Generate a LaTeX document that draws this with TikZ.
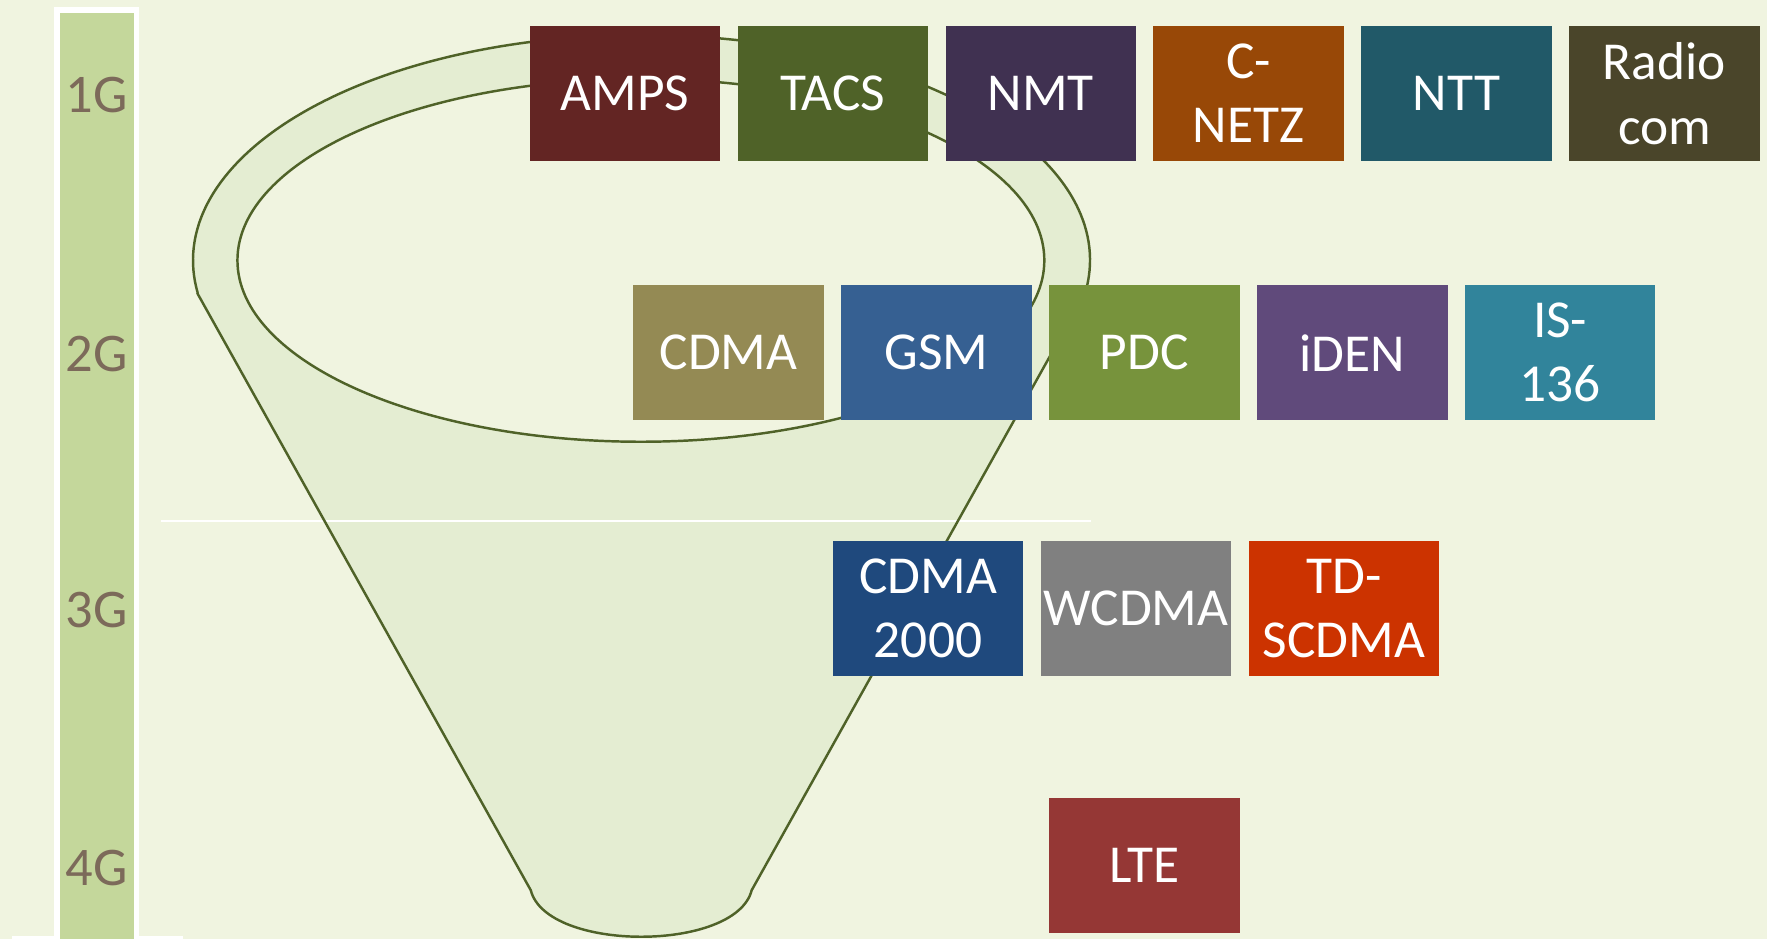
\documentclass[tikz,border=0pt]{standalone}
\usepackage{fontspec}
\setmainfont{Carlito}
\definecolor{bg}{RGB}{240,244,224}
\definecolor{funnelfill}{RGB}{228,237,210}
\definecolor{bargreen}{RGB}{196,215,155}
\definecolor{olive}{RGB}{79,98,40}
\definecolor{gtext}{RGB}{124,106,90}
\definecolor{cAMPS}{RGB}{99,37,35}
\definecolor{cTACS}{RGB}{79,98,40}
\definecolor{cNMT}{RGB}{64,49,81}
\definecolor{cCNETZ}{RGB}{152,72,7}
\definecolor{cNTT}{RGB}{33,89,104}
\definecolor{cRadio}{RGB}{74,69,42}
\definecolor{cCDMA}{RGB}{148,138,84}
\definecolor{cGSM}{RGB}{54,96,146}
\definecolor{cPDC}{RGB}{119,147,60}
\definecolor{ciDEN}{RGB}{96,74,123}
\definecolor{cIS}{RGB}{49,132,155}
\definecolor{cCDMAtwo}{RGB}{31,73,125}
\definecolor{cWCDMA}{RGB}{128,128,128}
\definecolor{cTD}{RGB}{204,51,0}
\definecolor{cLTE}{RGB}{149,55,53}
\tikzset{
  techbox/.style={fill=#1, text=white, minimum width=54.2pt, minimum height=38.5pt,
    inner sep=0pt, align=center, font=\fontsize{15.2}{18.3}\selectfont},
  genlabel/.style={text=gtext, inner sep=0pt, font=\fontsize{15.5}{18}\selectfont},
  funnelline/.style={draw=olive, line width=0.7pt}
}
\begin{document}
\begin{tikzpicture}[x=0.0112691cm,y=-0.0112691cm]
\useasboundingbox (0,0) rectangle (1568,833);
\fill[bg] (0,0) rectangle (1568,833);
% generation bar
\fill[white] (11,830.5) rectangle (162,833);
\fill[white] (48,6.5) rectangle (123.5,833);
\fill[bargreen] (53,11.5) rectangle (119,833);
\node[genlabel] (g1) at (86,84.5) {1G};
\node[genlabel] (g2) at (86,314.5) {2G};
\node[genlabel] (g3) at (86,541.5) {3G};
\node[genlabel] (g4) at (86,770.5) {4G};
% funnel
\fill[funnelfill] (175,260) -- (471,790) .. controls (485,845) and (653,845) .. (667,790)
  -- (963,260) arc[start angle=8.34, end angle=-188.34, x radius=398, y radius=200] -- cycle;
\draw[white, line width=0.5pt] (143,462) -- (968,462);
\draw[funnelline] (175,260) -- (471,790) .. controls (485,845) and (653,845) .. (667,790)
  -- (963,260) arc[start angle=8.34, end angle=-188.34, x radius=398, y radius=200];
\filldraw[fill=bg, funnelline] (568.7,231) ellipse [x radius=358, y radius=161];
% 1G
\node[techbox=cAMPS] (amps) at (554.5,83) {\raisebox{-0.8pt}{AMPS}};
\node[techbox=cTACS] (tacs) at (739,83) {\raisebox{-0.8pt}{TACS}};
\node[techbox=cNMT] (nmt) at (923.5,83) {\raisebox{-0.8pt}{NMT}};
\node[techbox=cCNETZ] (cnetz) at (1108,83) {C-\\NETZ};
\node[techbox=cNTT] (ntt) at (1292.5,83) {\raisebox{-0.8pt}{NTT}};
\node[techbox=cRadio] (radio) at (1477,83) {Radio\\com};
% 2G
\node[techbox=cCDMA] (cdma) at (646.5,313) {\raisebox{-0.8pt}{CDMA}};
\node[techbox=cGSM] (gsm) at (831,313) {\raisebox{-0.8pt}{GSM}};
\node[techbox=cPDC] (pdc) at (1015.5,313) {\raisebox{-0.8pt}{PDC}};
\node[techbox=ciDEN] (iden) at (1200,313) {\raisebox{-0.8pt}{iDEN}};
\node[techbox=cIS] (is136) at (1384.5,313) {IS-\\136};
% 3G
\node[techbox=cCDMAtwo] (cdma2000) at (823.5,540) {CDMA\\2000};
\node[techbox=cWCDMA] (wcdma) at (1008,540) {\raisebox{-0.8pt}{WCDMA}};
\node[techbox=cTD] (tdscdma) at (1192.5,540) {TD-\\SCDMA};
% 4G
\node[techbox=cLTE] (lte) at (1015.5,768) {\raisebox{-0.8pt}{LTE}};
\end{tikzpicture}
\end{document}
